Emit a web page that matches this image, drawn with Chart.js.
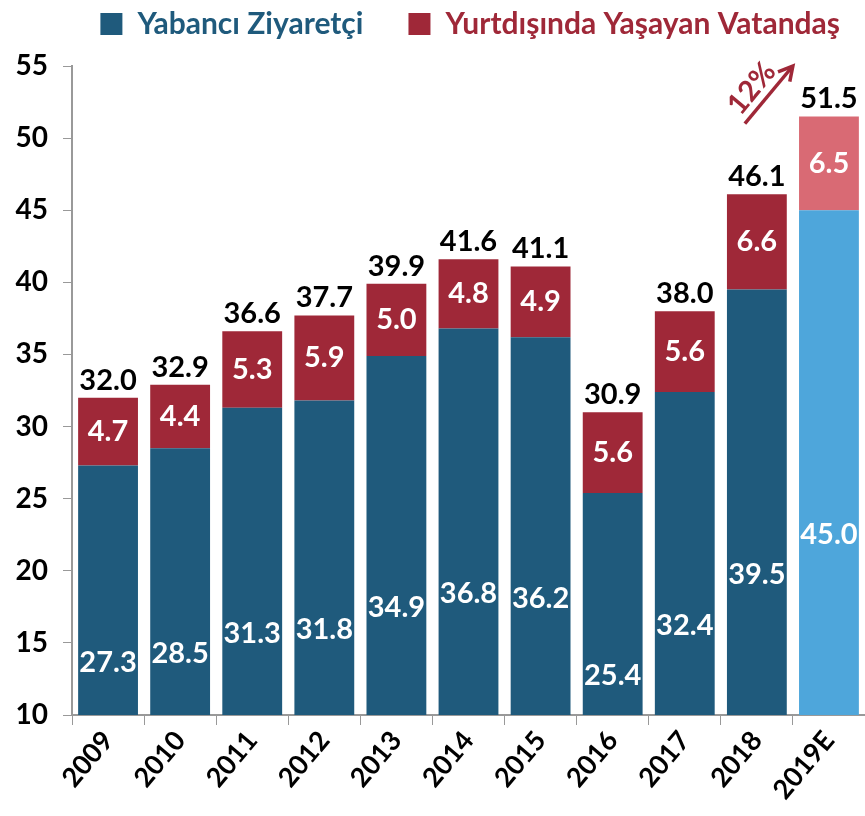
<!DOCTYPE html>
<html>
<head>
<meta charset="utf-8">
<script src="https://cdn.jsdelivr.net/npm/chart.js@4"></script>
<style>
    html, body { margin: 0; padding: 0; background: #fff; }
    #wrap { width: 865px; height: 816px; }
</style>
</head>
<body>
<div id="wrap"><canvas id="chart" width="865" height="816"></canvas></div>
<script>
// Chart data
const years = ['2009', '2010', '2011', '2012', '2013', '2014', '2015', '2016', '2017', '2018', '2019E'];
const foreignVisitors = [27.3, 28.5, 31.3, 31.8, 34.9, 36.8, 36.2, 25.4, 32.4, 39.5, 45.0];
const citizensAbroad = [4.7, 4.4, 5.3, 5.9, 5.0, 4.8, 4.9, 5.6, 5.6, 6.6, 6.5];
const totals = [32.0, 32.9, 36.6, 37.7, 39.9, 41.6, 41.1, 30.9, 38.0, 46.1, 51.5];
const yTicks = [10, 15, 20, 25, 30, 35, 40, 45, 50, 55];
const growthLabel = '12%';

const BLUE = '#1f5a7c';
const RED = '#9f2838';
const BLUE_E = '#4ea6db';
const RED_E = '#d96a74';
const FONT = 'Lato, "Noto Sans", sans-serif';

const blueColors = years.map((y, i) => i === years.length - 1 ? BLUE_E : BLUE);
const redColors = years.map((y, i) => i === years.length - 1 ? RED_E : RED);

// Value labels inside bars, totals above, growth arrow
const labelPlugin = {
    id: 'barLabels',
    afterDatasetsDraw(chart) {
        const ctx = chart.ctx;
        ctx.save();
        ctx.font = 'bold 29px ' + FONT;
        ctx.textAlign = 'center';
        ctx.textBaseline = 'middle';
        chart.data.datasets.forEach((ds, di) => {
            chart.getDatasetMeta(di).data.forEach((bar, i) => {
                const mid = (bar.y + bar.base) / 2;
                ctx.fillStyle = '#fff';
                ctx.fillText(ds.data[i].toFixed(1), bar.x, mid);
            });
        });
        const top = chart.getDatasetMeta(1).data;
        ctx.fillStyle = '#000';
        ctx.textBaseline = 'bottom';
        top.forEach((bar, i) => {
            ctx.fillText(totals[i].toFixed(1), bar.x, bar.y - 3);
        });

        // growth arrow between 2018 and 2019E
        const xs = chart.scales.x;
        const ys = chart.scales.y;
        const x0 = xs.getPixelForValue(9) - 12;
        const y0 = ys.getPixelForValue(51.0);
        const x1 = xs.getPixelForValue(9) + 36;
        const y1 = ys.getPixelForValue(55);
        ctx.strokeStyle = RED;
        ctx.fillStyle = RED;
        ctx.lineWidth = 3.5;
        ctx.beginPath();
        ctx.moveTo(x0, y0);
        ctx.lineTo(x1, y1);
        ctx.stroke();
        const ang = Math.atan2(y1 - y0, x1 - x0);
        ctx.beginPath();
        ctx.moveTo(x1 - 16 * Math.cos(ang - 0.5), y1 - 16 * Math.sin(ang - 0.5));
        ctx.lineTo(x1, y1);
        ctx.lineTo(x1 - 16 * Math.cos(ang + 0.5), y1 - 16 * Math.sin(ang + 0.5));
        ctx.stroke();
        ctx.translate((x0 + x1) / 2, (y0 + y1) / 2);
        ctx.rotate(ang);
        ctx.font = 'bold 29px ' + FONT;
        ctx.textBaseline = 'alphabetic';
        ctx.textAlign = 'center';
        ctx.fillText(growthLabel, -6, -8);
        ctx.restore();
    }
};

// Fixed legend band height; items drawn higher than the default padding allows
const legendPlugin = {
    id: 'legendBand',
    beforeInit(chart) {
        const fit = chart.legend.fit;
        chart.legend.fit = function () {
            fit.call(this);
            this.height = 66;
        };
        chart.legend.draw = function () {
            if (!this.options.display) return;
            this.ctx.save();
            this.ctx.translate(20, -36);
            this._draw();
            this.ctx.restore();
        };
    }
};

new Chart(document.getElementById('chart'), {
    type: 'bar',
    data: {
        labels: years,
        datasets: [{
            label: 'Yabancı Ziyaretçi',
            data: foreignVisitors,
            backgroundColor: blueColors
        }, {
            label: 'Yurtdışında Yaşayan Vatandaş',
            data: citizensAbroad,
            backgroundColor: redColors
        }]
    },
    options: {
        responsive: false,
        animation: false,
        datasets: {
            bar: { categoryPercentage: 1, barPercentage: 0.83 }
        },
        layout: { padding: 0 },
        plugins: {
            tooltip: { enabled: false },
            legend: {
                position: 'top',
                align: 'end',
                labels: {
                    font: { family: FONT, size: 30, weight: 'bold' },
                    boxWidth: 22,
                    boxHeight: 22,
                    padding: 45,
                    generateLabels(chart) {
                        const cols = [BLUE, RED];
                        return chart.data.datasets.map((ds, i) => ({
                            text: ds.label,
                            fillStyle: cols[i],
                            strokeStyle: cols[i],
                            lineWidth: 0,
                            fontColor: cols[i],
                            datasetIndex: i
                        }));
                    }
                }
            }
        },
        scales: {
            x: {
                stacked: true,
                grid: { display: true, drawOnChartArea: false, offset: true, color: '#999', tickLength: 10 },
                border: { color: '#999', width: 2 },
                ticks: {
                    color: '#000',
                    font: { family: FONT, size: 27, weight: 'bold' },
                    minRotation: 50,
                    maxRotation: 50,
                    padding: 0
                },
                afterFit(scale) { scale.height = 101; }
            },
            y: {
                stacked: true,
                min: 10,
                max: 55,
                afterBuildTicks(scale) { scale.ticks = yTicks.map(v => ({ value: v })); },
                grid: { display: true, drawOnChartArea: false, color: '#999', tickLength: 9 },
                border: { color: '#999', width: 2 },
                ticks: {
                    color: '#000',
                    font: { family: FONT, size: 28, weight: 'bold' },
                    padding: 15
                },
                afterFit(scale) { scale.width = 72; }
            }
        }
    },
    plugins: [labelPlugin, legendPlugin]
});
</script>
</body>
</html>
